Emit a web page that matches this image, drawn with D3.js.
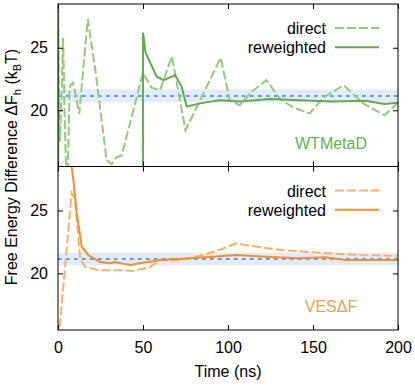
<!DOCTYPE html>
<html>
<head>
<meta charset="utf-8">
<script src="https://cdn.jsdelivr.net/npm/d3@7"></script>
<style>
  body { margin: 0; background: #fff; }
  svg { display: block; font-family: 'Liberation Sans', Arial, sans-serif; }
  .tick text { font-size: 16px; fill: #000; }
  .tick line { stroke: #000; }
</style>
</head>
<body>
<svg id="chart" width="415" height="388"></svg>
<script>
// data: [time (ns), free energy difference (kBT)]
const xTicks = [0, 50, 100, 150, 200]
const yTicks = [20, 25]
const refValue = 21.15
const refBand = [20.65, 21.65]

const wtDirect = [
  [0, 29.5], [0.6, 20], [1.2, 17.5], [2, 21], [3, 25.8], [4, 19], [4.8, 15.3], [5.8, 15.3],
  [6.8, 21.5], [7.3, 22], [8.8, 22.2], [10, 21.5], [12.5, 19.7], [17.5, 27.3], [22, 23.2],
  [28.6, 16], [31.6, 15.7], [34, 16.2], [37.5, 16.4], [50, 23], [55, 21.8], [60, 21.6],
  [67, 24.3], [75, 18.4], [95.7, 24.2], [101, 20.8], [107, 20.4], [114, 21.5], [122.7, 22.4],
  [130.6, 20.9], [138, 20.25], [148, 19.75], [156, 21], [168, 22], [180, 20.5], [192, 19.6],
  [200, 20.6]
]
const wtReweighted = [
  [0, 35], [0.2, 5], [49.9, 5], [50, 26.2], [51.5, 24.6], [58, 22.7], [62, 22.4], [69, 22.8],
  [72.7, 21.9], [75.7, 20.3], [83.5, 20.55], [95, 20.8], [107, 20.7], [125, 20.9], [142, 20.8],
  [161, 20.7], [181, 20.75], [192, 20.5], [200, 20.6]
]
const vesDirect = [
  [0, 10], [0.8, 15.4], [8, 26.4], [10, 25.9], [13, 21.2], [16, 20.5], [24.7, 20.25],
  [36.5, 20.25], [44, 20.2], [54, 20.5], [60, 21.05], [72, 21.05], [83.5, 21.4], [95, 21.86],
  [105, 22.4], [110, 22.26], [131, 21.86], [158, 21.6], [178, 21.46], [200, 21.4]
]
const vesReweighted = [
  [0, 45], [7.5, 29], [9, 27.5], [11, 24.8], [14, 22.1], [17.8, 21.46], [24.7, 20.9],
  [30.6, 20.8], [33.5, 20.9], [42.4, 20.66], [48, 20.8], [60, 21.06], [77.6, 21.2],
  [89, 21.3], [105, 21.46], [122, 21.33], [141, 21.2], [157, 21.28], [169, 21.06], [200, 21.06]
]

const panels = [
  { name: 'WTMetaD', top: 4, bottom: 166.5, direct: wtDirect, reweighted: wtReweighted,
    solid: '#66a84f', dashed: '#93c97c', label: '#6aae52' },
  { name: 'VES\u0394F', top: 166.5, bottom: 330, direct: vesDirect, reweighted: vesReweighted,
    solid: '#ee8f32', dashed: '#f7b266', label: '#f0a04e' }
]

const left = 58, right = 398
const svg = d3.select('#chart')

const x = d3.scaleLinear().domain([0, 200]).range([left, right])

panels.forEach((p, i) => {
  const y = d3.scaleLinear().domain([15.5, 28.5]).range([p.bottom, p.top])
  const g = svg.append('g')

  svg.append('clipPath').attr('id', 'clip' + i)
    .append('rect').attr('x', left).attr('y', p.top)
    .attr('width', right - left).attr('height', p.bottom - p.top)

  const plot = g.append('g').attr('clip-path', `url(#clip${i})`)

  plot.append('rect')
    .attr('x', left).attr('width', right - left)
    .attr('y', y(refBand[1])).attr('height', y(refBand[0]) - y(refBand[1]))
    .attr('fill', '#e2ebfa')

  plot.append('line')
    .attr('x1', left).attr('x2', right)
    .attr('y1', y(refValue)).attr('y2', y(refValue))
    .attr('stroke', '#3a78e0').attr('stroke-width', 1.5)
    .attr('stroke-dasharray', '3.5,4.5')

  const line = d3.line().x(d => x(d[0])).y(d => y(d[1]))

  plot.append('path').datum(p.direct)
    .attr('d', line).attr('fill', 'none')
    .attr('stroke', p.dashed).attr('stroke-width', 2)
    .attr('stroke-dasharray', '9,3')

  plot.append('path').datum(p.reweighted)
    .attr('d', line).attr('fill', 'none')
    .attr('stroke', p.solid).attr('stroke-width', 2)

  // mirrored inward ticks
  const isLast = i === panels.length - 1
  g.append('g').attr('transform', `translate(0,${p.bottom})`)
    .call(d3.axisBottom(x).tickValues(xTicks).tickSize(-5).tickPadding(isLast ? 12 : 0)
      .tickFormat(isLast ? d3.format('d') : ''))
    .call(a => a.select('.domain').remove())
  g.append('g').attr('transform', `translate(0,${p.top})`)
    .call(d3.axisTop(x).tickValues(xTicks).tickSize(-5).tickFormat(''))
    .call(a => a.select('.domain').remove())
  g.append('g').attr('transform', `translate(${left},0)`)
    .call(d3.axisLeft(y).tickValues(yTicks).tickSize(-5).tickPadding(10))
    .call(a => a.select('.domain').remove())
  g.append('g').attr('transform', `translate(${right},0)`)
    .call(d3.axisRight(y).tickValues(yTicks).tickSize(-5).tickFormat(''))
    .call(a => a.select('.domain').remove())

  g.append('rect')
    .attr('x', left).attr('y', p.top)
    .attr('width', right - left).attr('height', p.bottom - p.top)
    .attr('fill', 'none').attr('stroke', '#000').attr('stroke-width', 1)

  // legend
  const legend = [['direct', p.dashed, '9,3'], ['reweighted', p.solid, null]]
  legend.forEach((l, j) => {
    const ly = p.top + 24 + j * 19.3
    g.append('text').attr('x', 326).attr('y', ly + 6)
      .attr('text-anchor', 'end').attr('font-size', 16).text(l[0])
    g.append('line').attr('x1', 335).attr('x2', 379).attr('y1', ly).attr('y2', ly)
      .attr('stroke', l[1]).attr('stroke-width', 2)
      .attr('stroke-dasharray', l[2])
  })

  g.append('text').attr('x', 331).attr('y', p.bottom - 18)
    .attr('text-anchor', 'middle').attr('font-size', 16)
    .attr('fill', p.label).text(p.name)
})

svg.append('text').attr('x', 228).attr('y', 377)
  .attr('text-anchor', 'middle').attr('font-size', 16).text('Time (ns)')

const ylab = svg.append('text')
  .attr('transform', 'translate(17,167) rotate(-90)')
  .attr('text-anchor', 'middle').attr('font-size', 16)
ylab.append('tspan').text('Free Energy Difference \u0394F')
ylab.append('tspan').attr('font-size', 11).attr('dy', 4).text('h')
ylab.append('tspan').attr('dy', -4).text(' (k')
ylab.append('tspan').attr('font-size', 11).attr('dy', 4).text('B')
ylab.append('tspan').attr('dy', -4).text('T)')
</script>
</body>
</html>
